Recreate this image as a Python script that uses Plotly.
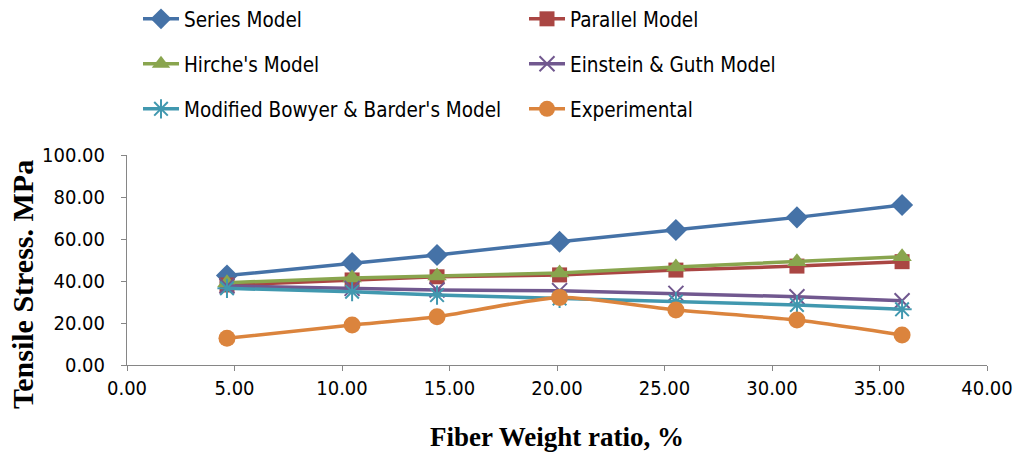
import plotly.graph_objects as go

fiber_ratio = [4.65, 10.47, 14.42, 20.12, 25.53, 31.16, 36.05]
series_model = [42.6, 48.6, 52.4, 58.7, 64.3, 70.3, 76.2]
parallel_model = [38.1, 40.5, 42.0, 42.9, 45.2, 47.1, 49.2]
hirche_model = [39.2, 41.4, 42.4, 43.8, 46.7, 49.2, 51.6]
einstein_guth = [37.6, 36.5, 35.7, 35.4, 34.1, 32.5, 30.6]
bowyer_barder = [36.5, 34.9, 33.3, 31.7, 30.2, 28.6, 26.5]
experimental = [12.7, 19.0, 23.0, 32.2, 26.2, 21.4, 14.3]

x_ticks = [0, 5, 10, 15, 20, 25, 30, 35, 40]
y_ticks = [0, 20, 40, 60, 80, 100]

fig = go.Figure()

# plot area in pixels
L, R, T, B = 127, 987, 155, 365
W, H = R - L, B - T

# (name, values, colour, marker, legend id, legend col, legend row px, line shape)
specs = [
    ("Series Model", series_model, "#4572A7", dict(symbol="diamond", size=17), "legend", 0, 19, "linear"),
    ("Parallel Model", parallel_model, "#AA4643", dict(symbol="square", size=15), "legend2", 1, 19, "linear"),
    ("Hirche's Model", hirche_model, "#89A54E", dict(symbol="triangle-up", size=17), "legend3", 0, 64, "linear"),
    ("Einstein & Guth Model", einstein_guth, "#71588F", dict(symbol="x-thin-open", size=15, line=dict(width=2, color="#71588F")), "legend4", 1, 64, "linear"),
    ("Modified Bowyer & Barder's Model", bowyer_barder, "#4198AF", dict(symbol="asterisk-open", size=16, line=dict(width=2, color="#4198AF")), "legend5", 0, 109, "linear"),
    ("Experimental", experimental, "#DB843D", dict(symbol="circle", size=17), "legend6", 1, 109, "spline"),
]

font_fam = "DejaVu Sans Condensed, DejaVu Sans"
col_px = [138, 524]
legends = {}
for name, vals, color, marker, leg, col, row, shape in specs:
    marker = dict(marker)
    marker["color"] = color
    fig.add_trace(go.Scatter(
        x=fiber_ratio, y=vals, name=name, mode="lines+markers",
        line=dict(color=color, width=3.5, shape=shape, smoothing=0.6),
        marker=marker, legend=leg,
    ))
    legends[leg] = dict(
        x=(col_px[col] - L) / W, xanchor="left",
        y=(B - row) / H, yanchor="middle",
        font=dict(family=font_fam, size=20.5, color="#000000"),
        bgcolor="rgba(0,0,0,0)", itemwidth=36,
    )

fig.update_layout(
    width=1018, height=452,
    margin=dict(l=L, r=1018 - R, t=T, b=452 - B, autoexpand=False),
    paper_bgcolor="white", plot_bgcolor="white",
    showlegend=True,
    **legends,
    xaxis=dict(range=[0, 40], tickvals=x_ticks, tickformat=".2f",
               showgrid=False, zeroline=False, showline=True, linecolor="#868686", linewidth=1,
               ticks="outside", ticklen=5, tickcolor="#868686",
               tickfont=dict(family=font_fam, size=20, color="#000000"),
               title=dict(text="<b>Fiber Weight ratio, %</b>", standoff=28,
                          font=dict(family="Liberation Serif", size=27, color="#000000"))),
    yaxis=dict(range=[0, 100], tickvals=y_ticks, tickformat=".2f",
               showgrid=False, zeroline=False, showline=True, linecolor="#868686", linewidth=1,
               ticks="outside", ticklen=5, tickcolor="#868686", ticklabelstandoff=12,
               tickfont=dict(family=font_fam, size=20, color="#000000")),
    annotations=[dict(
        text="<b>Tensile Stress. MPa</b>", textangle=-90, showarrow=False,
        xref="paper", yref="paper", x=(22 - L) / W, y=(B - 285) / H,
        xanchor="center", yanchor="middle",
        font=dict(family="Liberation Serif", size=30, color="#000000"),
    )],
)

fig.write_html("out.html", config={"displayModeBar": False},
               post_script="document.body.style.margin='0';")
